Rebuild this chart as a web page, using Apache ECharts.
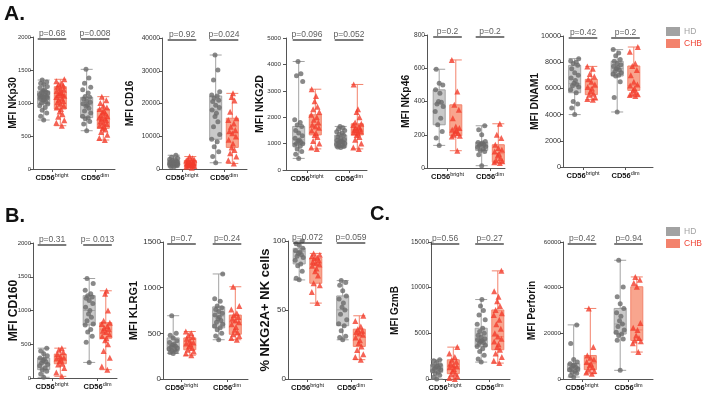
<!DOCTYPE html>
<html><head><meta charset="utf-8">
<script src="https://cdn.jsdelivr.net/npm/echarts@6/dist/echarts.min.js"></script>
<style>html,body{margin:0;padding:0;background:#fff}#c{width:703px;height:395px}</style>
</head><body><div id="c"></div>
<script>
// ---------- data ----------
const categories = ['CD56bright', 'CD56dim'];
const groups = ['HD', 'CHB'];

const NKp30_HD_bright = [742, 800, 850, 890, 930, 960, 985, 1000, 1020, 1040, 1050, 1070, 1080, 1090, 1095, 1100, 1110, 1120, 1130, 1150, 1160, 1170, 1182, 1200, 1230, 1250, 1280, 1300, 1320, 1348];
const NKp30_HD_dim = [580, 680, 720, 760, 778, 800, 850, 880, 920, 950, 970, 990, 1010, 1030, 1060, 1086, 1100, 1150, 1200, 1240, 1300, 1380, 1510];
const NKp30_CHB_bright = [656, 700, 740, 790, 830, 870, 909, 930, 960, 990, 1010, 1030, 1050, 1070, 1090, 1110, 1121, 1130, 1150, 1160, 1180, 1200, 1220, 1247, 1260, 1280, 1300, 1330, 1359];
const NKp30_CHB_dim = [439, 470, 520, 560, 600, 616, 640, 660, 680, 700, 720, 740, 760, 768, 780, 800, 820, 840, 860, 880, 909, 930, 960, 1000, 1040, 1096];
const NKp30_HD_box = [[742, 985, 1095, 1182, 1348], [580, 778, 970, 1086, 1510]];
const NKp30_CHB_box = [[656, 909, 1121, 1247, 1359], [439, 616, 768, 909, 1096]];

const CD16_HD_bright = [600, 800, 1000, 1100, 1200, 1300, 1400, 1500, 1600, 1700, 1800, 1900, 2000, 2100, 2200, 2400, 2600, 2800, 3000, 3300, 3600, 4200];
const CD16_HD_dim = [1900, 3800, 5300, 6800, 8300, 9100, 10500, 12900, 14400, 16000, 17000, 18000, 18800, 19500, 20600, 21000, 21600, 22300, 22600, 23600, 27200, 30200, 34800];
const CD16_CHB_bright = [400, 700, 900, 1000, 1100, 1250, 1400, 1500, 1600, 1700, 1800, 2000, 2200, 2400, 2600, 2800, 3000, 3300, 3800];
const CD16_CHB_dim = [1700, 2700, 3800, 4800, 5800, 6600, 7800, 8900, 9900, 10900, 11500, 11900, 12900, 13900, 15000, 15500, 17500, 20900, 22000, 23100];
const CD16_HD_box = [[600, 1200, 1800, 2600, 4200], [1900, 9100, 18000, 22300, 34800]];
const CD16_CHB_box = [[400, 1100, 1700, 2600, 3800], [1700, 6600, 10900, 15500, 23100]];

const NKG2D_HD_bright = [440, 600, 700, 800, 900, 950, 990, 1000, 1050, 1100, 1140, 1200, 1300, 1400, 1500, 1650, 1700, 1800, 1900, 3350, 3570, 3650, 4110];
const NKG2D_HD_dim = [850, 870, 890, 920, 950, 980, 1000, 1030, 1060, 1080, 1100, 1130, 1160, 1200, 1250, 1320, 1350, 1400, 1450, 1500, 1550, 1600, 1650];
const NKG2D_CHB_bright = [800, 850, 1000, 1100, 1250, 1330, 1400, 1500, 1600, 1650, 1710, 1800, 1900, 2000, 2090, 2200, 2300, 2400, 2600, 2800, 3060];
const NKG2D_CHB_dim = [800, 850, 1000, 1150, 1250, 1330, 1380, 1420, 1460, 1500, 1520, 1560, 1600, 1640, 1700, 1750, 1800, 2000, 2200, 2300, 3240];
const NKG2D_HD_box = [[440, 990, 1140, 1650, 4110], [850, 890, 1080, 1320, 1650]];
const NKG2D_CHB_box = [[800, 1330, 1710, 2090, 3060], [800, 1330, 1520, 1750, 3240]];

const NKp46_HD_bright = [136, 180, 220, 260, 300, 340, 370, 385, 395, 400, 450, 470, 500, 510, 594];
const NKp46_HD_dim = [14, 80, 100, 106, 115, 125, 130, 135, 140, 145, 150, 154, 160, 200, 230, 254];
const NKp46_CHB_bright = [104, 190, 194, 200, 210, 220, 225, 230, 240, 250, 300, 350, 380, 460, 650];
const NKp46_CHB_dim = [30, 35, 40, 45, 60, 75, 86, 100, 110, 120, 140, 180, 200, 266];
const NKp46_HD_box = [[136, 260, 385, 470, 594], [14, 106, 134, 154, 254]];
const NKp46_CHB_box = [[104, 194, 230, 380, 650], [30, 35, 86, 140, 266]];

const DNAM1_HD_bright = [4000, 4500, 4800, 5000, 5670, 5900, 6100, 6200, 6300, 6400, 6600, 6800, 7000, 7200, 7500, 7760, 7900, 8000, 8100, 8270];
const DNAM1_HD_dim = [4200, 5300, 6500, 6950, 7000, 7100, 7200, 7300, 7400, 7500, 7600, 7700, 7800, 7900, 8070, 8200, 8500, 8700, 8960];
const DNAM1_CHB_bright = [5140, 5200, 5300, 5520, 5600, 5800, 6000, 6100, 6300, 6500, 6690, 6900, 7100, 7500, 7680];
const DNAM1_CHB_dim = [5420, 5500, 5550, 5600, 5700, 5850, 6000, 6230, 6300, 6500, 7000, 7400, 7710, 7900, 8800, 9160];
const DNAM1_HD_box = [[4000, 5670, 6360, 7760, 8270], [4200, 6950, 7510, 8070, 8960]];
const DNAM1_CHB_box = [[5140, 5520, 6060, 6690, 7680], [5420, 5850, 6230, 7710, 9160]];

const CD160_HD_bright = [10, 60, 100, 123, 150, 180, 200, 221, 240, 260, 280, 295, 330, 360, 400, 442];
const CD160_HD_dim = [231, 530, 620, 680, 720, 786, 800, 850, 900, 950, 1000, 1050, 1105, 1150, 1180, 1200, 1220, 1250, 1300, 1400, 1474];
const CD160_CHB_bright = [25, 80, 150, 200, 211, 250, 270, 290, 300, 320, 354, 380, 420, 442];
const CD160_CHB_dim = [123, 170, 300, 400, 500, 560, 590, 620, 650, 680, 700, 722, 740, 770, 800, 820, 850, 1000, 1250, 1292];
const CD160_HD_box = [[10, 123, 221, 295, 442], [231, 786, 1000, 1220, 1474]];
const CD160_CHB_box = [[25, 211, 295, 354, 442], [123, 590, 722, 820, 1292]];

const KLRG1_HD_bright = [280, 290, 300, 310, 320, 330, 340, 350, 360, 370, 380, 400, 420, 450, 480, 500, 693];
const KLRG1_HD_dim = [430, 470, 500, 540, 560, 580, 600, 620, 640, 660, 680, 700, 720, 740, 760, 780, 800, 850, 880, 1150];
const KLRG1_CHB_bright = [260, 280, 300, 320, 340, 360, 380, 390, 400, 420, 440, 460, 480, 500, 520];
const KLRG1_CHB_dim = [430, 450, 470, 490, 510, 540, 570, 600, 620, 640, 660, 680, 700, 720, 760, 800, 1010];
const KLRG1_HD_box = [[280, 310, 360, 450, 693], [430, 560, 690, 790, 1150]];
const KLRG1_CHB_box = [[260, 320, 380, 450, 520], [430, 490, 620, 700, 1010]];

const NKG2A_HD_bright = [72, 73, 78, 82, 83.4, 86, 88, 89, 90, 91, 92, 93, 94.7, 97, 98, 100];
const NKG2A_HD_dim = [28.4, 30, 31, 35, 38.6, 40, 43, 47, 50, 52, 55, 58, 60.2, 64, 68, 70, 71.3];
const NKG2A_CHB_bright = [55, 63, 68, 69.4, 75, 78, 80, 82, 83, 84, 85, 86, 87.5, 88, 89, 90, 91];
const NKG2A_CHB_dim = [14, 16, 18, 21, 23.6, 26, 28, 30, 32, 33, 34, 35, 36.1, 38, 42, 45.8];
const NKG2A_HD_box = [[71.8, 83.4, 92.3, 94.7, 100], [28.4, 38.6, 50.1, 60.2, 71.3]];
const NKG2A_CHB_box = [[55, 69.4, 83.4, 87.5, 91], [14, 23.6, 33.3, 36.1, 45.8]];

const GzmB_HD_bright = [0, 200, 400, 600, 730, 900, 1000, 1100, 1200, 1300, 1400, 1500, 1560, 1800, 2000, 2100];
const GzmB_HD_dim = [1850, 2200, 2600, 3000, 3300, 3560, 3700, 3900, 4000, 4100, 4200, 4290, 4400, 4600, 4800, 5000, 5200, 5560, 6000, 6500, 7000, 7500, 8000, 8700];
const GzmB_CHB_bright = [0, 100, 300, 500, 580, 900, 1100, 1300, 1380, 1500, 1700, 1900, 2100, 2400, 2800, 3490];
const GzmB_CHB_dim = [1740, 2000, 2400, 2800, 3200, 3500, 3800, 4100, 4400, 4650, 5000, 5500, 6000, 6500, 7000, 7200, 7560, 8000, 8500, 9000, 9600, 11840];
const GzmB_HD_box = [[0, 730, 1200, 1560, 2100], [1850, 3560, 4290, 5560, 8700]];
const GzmB_CHB_box = [[0, 580, 1380, 2100, 3490], [1740, 3200, 4650, 7560, 11840]];

const Perforin_HD_bright = [870, 1500, 2500, 3000, 3340, 4000, 4500, 4800, 5200, 5800, 6200, 6700, 7500, 8500, 15500, 23700];
const Perforin_HD_dim = [3800, 17000, 17500, 19000, 19700, 20500, 21500, 23000, 24100, 25500, 27500, 29000, 30900, 33000, 36000, 40300, 52000];
const Perforin_CHB_bright = [2300, 2800, 3500, 4070, 5000, 6000, 6700, 7500, 8500, 9300, 10300, 14000, 30900];
const Perforin_CHB_dim = [11800, 15700, 16500, 16900, 18000, 19000, 21500, 22500, 24500, 40400, 42000, 43500, 44700];
const Perforin_HD_box = [[870, 3340, 4800, 6700, 23700], [3800, 19700, 24100, 30900, 52000]];
const Perforin_CHB_box = [[2300, 4070, 6700, 10300, 30900], [11800, 16900, 21500, 40400, 44700]];

const yTitles = ['MFI NKp30', 'MFI CD16', 'MFI NKG2D', 'MFI NKp46', 'MFI DNAM1', 'MFI CD160', 'MFI KLRG1', '% NKG2A+ NK cells', 'MFI GzmB', 'MFI Perforin'];
const yMax = [2000, 40000, 5000, 800, 10000, 2000, 1500, 100, 15000, 60000];
const yStep = [500, 10000, 1000, 200, 2000, 500, 500, 50, 5000, 20000];
const pTexts = [['p=0.68', 'p=0.008'], ['p=0.92', 'p=0.024'], ['p=0.096', 'p=0.052'], ['p=0.2', 'p=0.2'], ['p=0.42', 'p=0.2'],
                ['p=0.31', 'p= 0.013'], ['p=0.7', 'p=0.24'], ['p=0.072', 'p=0.059'], ['p=0.56', 'p=0.27'], ['p=0.42', 'p=0.94']];

const hdPoints = [[NKp30_HD_bright, NKp30_HD_dim], [CD16_HD_bright, CD16_HD_dim], [NKG2D_HD_bright, NKG2D_HD_dim], [NKp46_HD_bright, NKp46_HD_dim], [DNAM1_HD_bright, DNAM1_HD_dim],
  [CD160_HD_bright, CD160_HD_dim], [KLRG1_HD_bright, KLRG1_HD_dim], [NKG2A_HD_bright, NKG2A_HD_dim], [GzmB_HD_bright, GzmB_HD_dim], [Perforin_HD_bright, Perforin_HD_dim]];
const chbPoints = [[NKp30_CHB_bright, NKp30_CHB_dim], [CD16_CHB_bright, CD16_CHB_dim], [NKG2D_CHB_bright, NKG2D_CHB_dim], [NKp46_CHB_bright, NKp46_CHB_dim], [DNAM1_CHB_bright, DNAM1_CHB_dim],
  [CD160_CHB_bright, CD160_CHB_dim], [KLRG1_CHB_bright, KLRG1_CHB_dim], [NKG2A_CHB_bright, NKG2A_CHB_dim], [GzmB_CHB_bright, GzmB_CHB_dim], [Perforin_CHB_bright, Perforin_CHB_dim]];
const hdBoxes = [NKp30_HD_box, CD16_HD_box, NKG2D_HD_box, NKp46_HD_box, DNAM1_HD_box, CD160_HD_box, KLRG1_HD_box, NKG2A_HD_box, GzmB_HD_box, Perforin_HD_box];
const chbBoxes = [NKp30_CHB_box, CD16_CHB_box, NKG2D_CHB_box, NKp46_CHB_box, DNAM1_CHB_box, CD160_CHB_box, KLRG1_CHB_box, NKG2A_CHB_box, GzmB_CHB_box, Perforin_CHB_box];

// ---------- layout (pixels): left, right, top, bottom, centre1, centre2, name offset ----------
const layout = [
  [33, 115, 37, 169, 52, 95, 20], [162, 247, 38, 169, 182, 224, 32], [283, 367, 38, 170, 307, 349, 23],
  [427, 505, 35, 168, 447.5, 490, 22], [563, 653, 36, 167, 583, 625.5, 29],
  [33, 117, 243, 378, 52, 97.5, 20], [163, 248, 242, 379, 181.5, 227, 30], [288, 372, 241, 379, 307.5, 351, 23],
  [431, 510, 242, 379, 445, 489.5, 36], [563, 653, 242, 379, 582, 628.5, 31]
];
const tickFont = [5.8, 6.6, 6.2, 6.6, 7.2, 6, 8, 8, 6.5, 6.2];
const nameFont = [10, 10, 10.5, 10.3, 10.3, 12, 11, 13, 10, 10.2];
const jit = [0, -3, 3, -1.5, 1.5, -4, 4, -2.2, 2.2, -0.7, 0.7, -3.6, 3.6];
const FONT = '"Liberation Sans", Arial, sans-serif';
const HD_PT = '#6c6c6c', HD_FILL = '#c9c9c9', HD_LINE = '#a2a2a2';
const CHB_PT = '#f23c2c', CHB_FILL = '#f8a58e', CHB_LINE = '#f3826c';

const grid = [], xAxis = [], yAxis = [], series = [];
layout.forEach((L, k) => {
  const [left, right, top, bottom, c1, c3, gap] = L;
  const ppu = (c3 - c1) / 2;
  const xmin = 1 - (c1 - left) / ppu, xmax = 3 + (right - c3) / ppu;
  const d = 8.3 / ppu;
  grid.push({left, top, width: right - left, height: bottom - top});
  const xi = xAxis.length;
  xAxis.push({type: 'value', gridIndex: k, min: xmin, max: xmax, splitLine: {show: false},
    axisLine: {show: true, onZero: false, lineStyle: {color: '#555', width: 1}},
    axisTick: {show: true, customValues: [1, 3], length: 3, lineStyle: {color: '#555'}},
    axisLabel: {customValues: [1, 3], margin: 3, formatter: v => (v === 1 ? '{a|CD56}{s|bright}' : '{a|CD56}{s|dim}'),
      rich: {a: {fontSize: 7.5, fontWeight: 'bold', color: '#111', fontFamily: FONT},
             s: {fontSize: 5.5, color: '#111', fontFamily: FONT, padding: [0, 0, 5, 0]}}}});
  xAxis.push({type: 'value', gridIndex: k, min: xmin, max: xmax, show: false});
  const nf = nameFont[k];
  yAxis.push({type: 'value', gridIndex: k, min: 0, max: yMax[k], interval: yStep[k],
    name: yTitles[k], nameLocation: 'middle', nameGap: gap - nf * 0.55, nameMoveOverlap: false,
    nameTextStyle: {fontWeight: 'bold', fontSize: nf, color: '#111', fontFamily: FONT},
    axisLine: {show: true, lineStyle: {color: '#555', width: 1}},
    axisTick: {show: true, length: 3, lineStyle: {color: '#555'}},
    splitLine: {show: false},
    axisLabel: {fontSize: tickFont[k], margin: 2, color: '#333', fontFamily: FONT, formatter: v => String(v)}});
  const cs = [1, 3];
  series.push({type: 'boxplot', name: 'HD', xAxisIndex: xi, yAxisIndex: k, boxWidth: [12, 12], silent: true, z: 2,
    itemStyle: {color: HD_FILL, borderColor: HD_LINE, borderWidth: 1},
    data: hdBoxes[k].map((b, j) => [cs[j] - d].concat(b))});
  series.push({type: 'boxplot', name: 'CHB', xAxisIndex: xi + 1, yAxisIndex: k, boxWidth: [12, 12], silent: true, z: 2,
    itemStyle: {color: CHB_FILL, borderColor: CHB_LINE, borderWidth: 1},
    data: chbBoxes[k].map((b, j) => [cs[j] + d].concat(b))});
  const hdData = [], chbData = [];
  hdPoints[k].forEach((arr, j) => arr.forEach((v, i) => hdData.push([cs[j] - d + jit[i % jit.length] / ppu, v])));
  chbPoints[k].forEach((arr, j) => arr.forEach((v, i) => chbData.push([cs[j] + d + jit[(i + 4) % jit.length] / ppu, v])));
  series.push({type: 'scatter', name: 'HDpts', xAxisIndex: xi, yAxisIndex: k, symbol: 'circle', symbolSize: 5, silent: true, z: 3,
    itemStyle: {color: HD_PT}, data: hdData});
  series.push({type: 'scatter', name: 'CHBpts', xAxisIndex: xi, yAxisIndex: k, symbol: 'triangle', symbolSize: 6, silent: true, z: 3,
    itemStyle: {color: CHB_PT}, data: chbData});
  const yb = yMax[k] * (1 - 2 / (bottom - top));
  cs.forEach((c, j) => {
    const half = d + 6 / ppu;
    series.push({type: 'line', xAxisIndex: xi, yAxisIndex: k, symbol: 'none', silent: true, z: 4, clip: false,
      lineStyle: {color: '#333', width: 1.3}, data: [[c - half, yb], [c + half, yb]]});
    series.push({type: 'scatter', xAxisIndex: xi, yAxisIndex: k, symbolSize: 0.1, silent: true, z: 4,
      itemStyle: {color: 'rgba(0,0,0,0)'},
      label: {show: true, position: 'top', distance: 1, formatter: pTexts[k][j], fontSize: 8.5, color: '#333', fontFamily: FONT},
      data: [[c, yb]]});
  });
});

const legendBase = {orient: 'vertical', icon: 'rect', itemWidth: 12, itemHeight: 7, itemGap: 3, itemTextGap: 3, selectedMode: false,
  textStyle: {fontSize: 8.5, fontFamily: FONT}, padding: 0,
  data: [{name: 'HD', textStyle: {color: '#a3a3a3'}}, {name: 'CHB', textStyle: {color: '#f04434'}}]};

const chart = echarts.init(document.getElementById('c'), null, {renderer: 'canvas'});
chart.setOption({
  animation: false,
  backgroundColor: '#fff',
  textStyle: {fontFamily: FONT},
  grid, xAxis, yAxis, series,
  legend: [Object.assign({left: 666, top: 27}, legendBase), Object.assign({left: 666, top: 227}, legendBase)],
  graphic: [
    {type: 'text', left: 4, top: 4, style: {text: 'A.', font: 'bold 21px ' + FONT, fill: '#111'}},
    {type: 'text', left: 5, top: 206, style: {text: 'B.', font: 'bold 20px ' + FONT, fill: '#111'}},
    {type: 'text', left: 370, top: 204, style: {text: 'C.', font: 'bold 20px ' + FONT, fill: '#111'}}
  ]
});
</script></body></html>
